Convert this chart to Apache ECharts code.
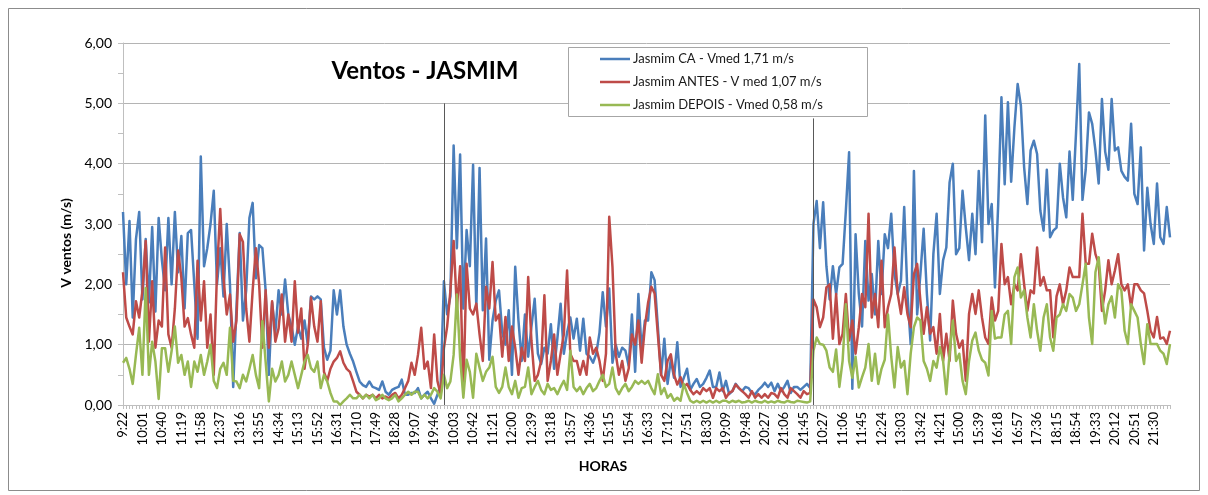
<!DOCTYPE html>
<html>
<head>
<meta charset="utf-8">
<title>Ventos - JASMIM</title>
<script src="https://cdn.jsdelivr.net/npm/echarts@6/dist/echarts.min.js"></script>
<style>
  html, body { margin: 0; padding: 0; background: #fff; }
  #chart { width: 1208px; height: 495px; }
</style>
</head>
<body>
<div id="chart"></div>
<script>
// Time labels shown on the category axis (three measuring days, one label every 39 min)
const tickLabels = [
  "9:22","10:01","10:40","11:19","11:58","12:37","13:16","13:55","14:34","15:13","15:52","16:31","17:10","17:49","18:28","19:07","19:46",
  "10:03","10:42","11:21","12:00","12:39","13:18","13:57","14:36","15:15","15:54","16:33","17:12","17:51","18:30","19:09","19:48","20:27","21:06","21:45",
  "10:27","11:06","11:45","12:24","13:03","13:42","14:21","15:00","15:39","16:18","16:57","17:36","18:15","18:54","19:33","20:12","20:51","21:30"
];
// samples recorded between two consecutive labels
const samplesPerLabel = 6;

const seriesNames = [
  "Jasmim CA - Vmed 1,71 m/s",
  "Jasmim ANTES - V med 1,07 m/s",
  "Jasmim DEPOIS - Vmed 0,58 m/s"
];

// wind speed (m/s) - Jasmim CA
const ventoCA = [
  3.2,2.0,3.05,1.45,2.75,3.2, 1.75,2.75,1.7,2.95,1.55,3.1, 2.4,1.9,3.1,2.0,3.2,2.2,
  2.8,1.6,2.85,2.9,2.0,1.1, 4.12,2.3,2.6,3.0,3.55,2.0, 2.6,1.8,3.0,2.0,0.3,1.6,
  2.85,1.4,1.9,3.1,3.35,2.1, 2.65,2.6,1.9,0.5,1.7,1.2, 1.9,1.5,2.08,1.5,1.3,1.0,
  1.3,1.1,1.4,1.0,1.8,1.75, 1.8,1.75,0.95,0.75,0.9,1.9, 1.5,1.9,1.3,1.0,0.85,0.72,
  0.55,0.39,0.33,0.3,0.39,0.3, 0.28,0.25,0.39,0.22,0.17,0.25, 0.28,0.3,0.42,0.17,0.17,0.2,
  0.2,0.28,0.11,0.17,0.22,0.11, 0.02,0.17,0.33,2.05,1.5,1.8,
  4.3,2.6,4.15,1.6,2.9,2.3, 3.98,1.6,3.93,1.57,2.76,0.75, 1.4,1.73,1.9,1.2,1.0,1.57,
  0.5,2.29,1.4,0.73,1.5,0.8, 1.3,1.76,0.85,0.68,0.95,0.85, 1.34,0.6,1.1,1.68,0.85,1.2,
  1.45,1.1,1.43,0.9,1.43,0.85, 0.8,0.7,0.85,1.2,1.87,1.3, 1.93,0.7,1.0,0.8,0.95,0.9,
  0.65,1.5,0.55,1.84,0.9,1.4, 1.4,2.2,2.07,1.3,0.5,1.1, 0.35,0.75,0.45,1.04,0.3,0.45,
  0.6,0.25,0.35,0.43,0.3,0.35, 0.45,0.57,0.3,0.3,0.54,0.23, 0.4,0.18,0.23,0.35,0.28,0.23,
  0.3,0.28,0.2,0.18,0.25,0.3, 0.37,0.3,0.37,0.23,0.35,0.23, 0.3,0.4,0.2,0.3,0.3,0.25,
  0.3,0.35,0.28,3.0,3.38,2.6,
  3.36,2.3,1.75,2.3,1.84,2.28, 2.34,3.22,4.19,0.27,2.83,1.84, 1.3,2.72,1.73,2.17,1.5,2.72,
  1.84,2.83,2.6,3.17,2.17,1.84, 2.06,3.28,1.84,1.01,3.88,1.5, 2.17,2.92,1.84,1.07,2.5,3.17,
  1.84,2.4,2.61,3.69,4.0,2.5, 2.6,3.55,2.94,2.4,3.17,2.5, 3.88,2.7,4.8,3.0,3.33,1.95,
  3.33,5.1,3.66,5.02,3.7,4.6, 5.32,4.96,3.94,3.33,4.22,4.38, 4.16,3.22,2.89,3.9,2.78,2.89,
  2.94,4.0,3.44,3.11,4.2,3.4, 4.5,5.65,3.4,3.9,4.85,4.66, 4.22,3.67,5.07,4.2,3.9,5.07,
  4.22,4.27,3.88,3.78,3.72,4.66, 3.5,3.33,4.27,2.56,3.6,3.0, 2.67,3.67,2.78,2.67,3.28,2.78
];

// wind speed (m/s) - Jasmim ANTES
const ventoAntes = [
  2.2,1.45,1.3,1.17,1.72,1.45, 1.9,2.72,1.05,2.05,0.95,1.4, 1.3,2.61,1.17,0.95,1.6,2.56,
  2.11,1.3,1.44,1.17,0.95,2.39, 1.4,2.05,0.95,1.5,0.5,2.2, 3.25,2.11,1.5,1.83,1.05,1.4,
  2.83,2.7,1.6,1.05,1.9,2.6, 2.0,0.95,1.9,0.95,1.72,1.05, 1.27,1.83,1.05,1.5,1.05,2.05,
  1.2,1.6,0.6,1.0,1.78,1.3, 1.05,1.72,0.55,0.4,0.6,0.72, 0.78,0.89,0.7,0.6,0.55,0.39,
  0.22,0.17,0.11,0.17,0.14,0.17, 0.11,0.17,0.11,0.14,0.11,0.17, 0.2,0.11,0.17,0.28,0.4,0.7,
  0.5,0.83,1.28,0.6,0.72,0.28, 1.17,0.4,0.17,0.94,1.3,1.89,
  2.72,1.6,2.3,0.2,2.34,1.6, 1.5,1.68,1.17,0.73,1.96,1.6, 2.37,1.4,1.5,0.8,1.46,0.73,
  1.3,0.95,0.5,0.95,0.73,2.12, 1.07,0.4,0.5,0.73,1.82,0.4, 0.73,1.17,0.5,0.85,1.17,2.23,
  0.85,0.73,0.73,0.5,0.73,0.5, 1.12,0.85,0.95,0.73,0.4,0.85, 3.12,2.29,0.85,0.5,0.73,0.4,
  0.6,1.17,1.0,1.4,0.7,1.3, 1.7,1.96,1.85,1.17,0.5,0.4, 0.73,0.84,0.5,0.34,0.46,0.3,
  0.35,0.25,0.18,0.23,0.18,0.28, 0.23,0.28,0.12,0.28,0.23,0.28, 0.12,0.2,0.23,0.34,0.28,0.23,
  0.18,0.12,0.23,0.12,0.18,0.12, 0.18,0.12,0.2,0.18,0.12,0.28, 0.18,0.12,0.28,0.23,0.18,0.12,
  0.23,0.18,0.2,1.75,1.62,1.29,
  1.45,1.95,2.0,1.1,1.84,1.01, 1.18,1.84,1.07,1.4,0.85,1.29, 1.84,1.62,3.17,1.45,1.84,1.29,
  2.39,1.29,1.62,1.84,2.61,1.84, 1.51,1.95,1.51,1.29,2.17,2.34, 1.73,1.18,1.62,1.18,1.29,0.85,
  1.51,0.73,1.18,0.73,1.73,1.18, 0.95,1.07,0.4,1.51,1.84,1.51, 1.9,1.45,1.12,1.01,1.78,1.4,
  1.56,2.67,2.0,2.12,1.67,2.0, 1.9,2.5,2.0,1.56,1.9,1.85, 2.61,1.98,2.12,1.9,1.9,1.12,
  1.8,2.0,1.67,1.9,2.28,2.12, 2.12,2.12,3.17,2.34,2.34,2.84, 2.5,2.34,1.56,1.9,2.4,2.0,
  2.23,2.5,2.0,1.9,2.0,1.62, 2.0,2.0,1.9,1.85,1.56,1.23, 1.12,1.46,1.1,1.12,1.01,1.23
];

// wind speed (m/s) - Jasmim DEPOIS
const ventoDepois = [
  0.7,0.78,0.6,0.35,0.83,1.28, 0.5,1.94,0.5,1.05,0.72,0.1, 0.94,0.94,0.55,0.9,1.3,0.7,
  0.83,0.5,0.72,0.3,0.72,0.55, 0.83,0.5,0.72,1.0,0.4,0.28, 0.6,0.7,0.5,1.28,0.4,0.39,
  0.28,0.5,0.39,0.6,0.83,0.5, 0.28,1.39,0.72,0.06,0.6,0.39, 0.5,0.72,0.39,0.5,0.72,0.5,
  0.28,0.5,0.72,0.83,0.61,0.55, 0.72,0.28,0.5,0.39,0.2,0.06, 0.06,0.0,0.06,0.11,0.17,0.11,
  0.11,0.17,0.11,0.17,0.11,0.17, 0.08,0.11,0.17,0.11,0.08,0.11, 0.17,0.06,0.11,0.17,0.22,0.17,
  0.22,0.22,0.11,0.17,0.11,0.17, 0.28,0.22,0.11,0.5,0.28,0.39,
  0.83,1.83,0.79,0.12,0.75,0.55, 0.12,0.85,0.62,0.4,0.55,0.62, 0.8,0.3,0.2,0.3,0.62,0.3,
  0.18,0.4,0.12,0.28,0.3,0.62, 0.18,0.3,0.4,0.25,0.18,0.35, 0.25,0.28,0.18,0.3,0.4,0.25,
  0.9,0.3,0.23,0.3,0.18,0.28, 0.35,0.23,0.28,0.4,0.5,0.3, 0.35,0.62,0.28,0.18,0.28,0.35,
  0.23,0.3,0.4,0.35,0.4,0.35, 0.4,0.28,0.18,0.51,0.18,0.28, 0.12,0.18,0.07,0.12,0.07,0.35,
  0.2,0.07,0.04,0.07,0.04,0.07, 0.04,0.07,0.04,0.07,0.04,0.07, 0.07,0.04,0.07,0.05,0.07,0.04,
  0.05,0.07,0.04,0.07,0.05,0.04, 0.07,0.04,0.06,0.04,0.07,0.05, 0.04,0.07,0.05,0.04,0.07,0.06,
  0.05,0.04,0.06,0.9,1.12,1.01,
  1.0,0.9,0.62,0.55,0.92,0.3, 0.73,1.67,0.73,0.45,0.8,0.29, 0.46,0.62,1.01,0.4,0.85,0.35,
  0.6,0.75,1.5,0.8,0.29,0.96, 0.62,0.73,0.18,0.85,1.29,1.45, 1.4,0.73,0.6,0.4,0.73,0.62,
  0.96,0.73,0.18,0.85,1.4,0.73, 0.85,0.4,0.18,0.73,1.07,1.2, 0.9,0.75,0.7,0.49,1.56,1.1,
  1.12,1.12,1.5,1.56,1.01,2.12, 2.28,1.78,1.9,1.45,1.12,1.67, 1.23,0.9,1.45,1.67,1.12,0.9,
  1.45,1.5,1.67,1.56,1.84,1.78, 1.56,1.67,2.0,2.34,1.45,1.01, 2.2,2.45,1.8,1.35,1.67,1.8,
  1.45,2.0,1.9,1.23,1.01,1.67, 1.56,1.45,1.01,0.68,1.34,1.01, 1.01,1.01,0.9,0.85,0.68,1.01
];

// first sample of the 2nd and 3rd day, and the height of the day divider drawn there
const dayStartSample = [99, 213];
const dividerTop = [5.0, 4.75];

// category axis: one entry per sample, labelled at every label position
const categories = [];
tickLabels.forEach(function (lbl) {
  categories.push(lbl);
  for (let k = 1; k < samplesPerLabel; k++) categories.push('');
});

const FONT = 'Lato, "Liberation Sans", sans-serif';
const GRID_COLOR = '#b4b4b4';
const AXIS_COLOR = '#bfbfbf';
const colors = ['#4a7ebb', '#be4b48', '#98b954'];

const chart = echarts.init(document.getElementById('chart'), null, { renderer: 'canvas' });

function lineSeries(name, values, color, extra) {
  return Object.assign({
    name: name,
    type: 'line',
    data: values,
    color: color,
    showSymbol: false,
    symbol: 'none',
    smooth: false,
    lineStyle: { color: color, width: 2.5, join: 'round' },
    emphasis: { disabled: true }
  }, extra || {});
}

const option = {
  animation: false,
  backgroundColor: '#ffffff',
  grid: { left: 123, right: 38, top: 43, bottom: 90, containLabel: false },
  xAxis: {
    type: 'category',
    data: categories,
    boundaryGap: false,
    axisLine: { show: true, lineStyle: { color: AXIS_COLOR, width: 1 } },
    axisTick: { show: true, interval: 0, length: 4, lineStyle: { color: AXIS_COLOR } },
    axisLabel: {
      interval: samplesPerLabel - 1,
      rotate: 90,
      fontSize: 13,
      color: '#000',
      fontFamily: FONT,
      margin: 7
    },
    splitLine: { show: false }
  },
  yAxis: {
    type: 'value',
    min: 0,
    max: 6,
    interval: 1,
    axisLine: { show: true, lineStyle: { color: AXIS_COLOR } },
    axisTick: { show: true, length: 5, lineStyle: { color: AXIS_COLOR } },
    minorTick: { show: true, splitNumber: 2, length: 5, lineStyle: { color: AXIS_COLOR } },
    splitLine: { show: true, lineStyle: { color: GRID_COLOR, width: 1 } },
    axisLabel: {
      formatter: function (v) { return v.toFixed(2).replace('.', ','); },
      fontSize: 14,
      color: '#000',
      fontFamily: FONT,
      margin: 11
    }
  },
  legend: {
    orient: 'vertical',
    left: 600,
    top: 51,
    z: 6,
    icon: 'rect',
    itemWidth: 30,
    itemHeight: 2.5,
    itemGap: 7,
    padding: 0,
    selectedMode: false,
    textStyle: { fontSize: 13, lineHeight: 16, color: '#1a1a1a', fontFamily: FONT, padding: [0, 0, 0, -2] },
    data: seriesNames
  },
  series: [
    lineSeries(seriesNames[0], ventoCA, colors[0], {
      z: 2,
      markLine: {
        silent: true,
        symbol: 'none',
        label: { show: false },
        lineStyle: { color: '#595959', width: 1, type: 'solid' },
        data: dayStartSample.map(function (idx, i) {
          return [{ coord: [idx, dividerTop[i]] }, { coord: [idx, 0] }];
        })
      }
    }),
    lineSeries(seriesNames[1], ventoAntes, colors[1], { z: 3 }),
    lineSeries(seriesNames[2], ventoDepois, colors[2], { z: 4 })
  ],
  graphic: [
    {
      type: 'rect', z: 0, silent: true,
      shape: { x: 8.5, y: 8.5, width: 1191, height: 482 },
      style: { fill: 'none', stroke: '#8c8c8c', lineWidth: 1 }
    },
    {
      type: 'rect', z: 5, silent: true,
      shape: { x: 568.5, y: 47.5, width: 299, height: 69 },
      style: { fill: '#ffffff', stroke: '#a6a6a6', lineWidth: 1 }
    },
    {
      type: 'text', z: 6, silent: true, x: 425, y: 71,
      style: { text: 'Ventos - JASMIM', fontSize: 24, fontWeight: 'bold', fontFamily: FONT, fill: '#000', align: 'center', verticalAlign: 'middle' }
    },
    {
      type: 'text', z: 6, silent: true, x: 603, y: 466,
      style: { text: 'HORAS', fontSize: 14, fontWeight: 'bold', fontFamily: FONT, fill: '#000', align: 'center', verticalAlign: 'middle' }
    },
    {
      type: 'text', z: 6, silent: true, x: 66, y: 243, rotation: Math.PI / 2,
      style: { text: 'V ventos (m/s)', fontSize: 14, fontWeight: 'bold', fontFamily: FONT, fill: '#000', align: 'center', verticalAlign: 'middle' }
    }
  ]
};

chart.setOption(option);
</script>
</body>
</html>
